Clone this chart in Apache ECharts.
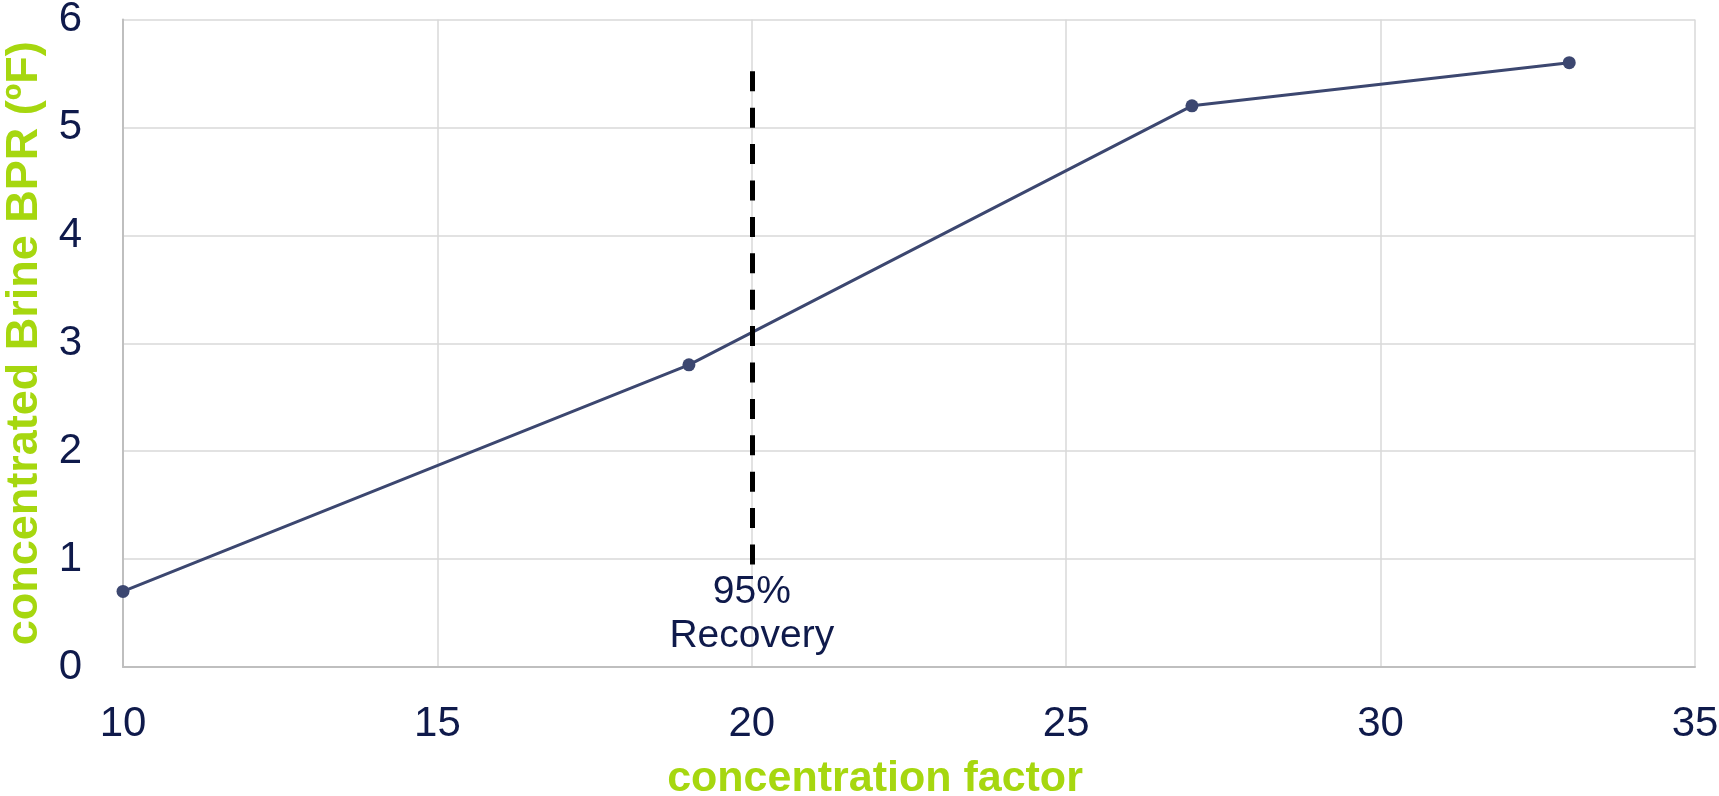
<!DOCTYPE html>
<html>
<head>
<meta charset="utf-8">
<script src="https://cdn.jsdelivr.net/npm/echarts@6/dist/echarts.min.js"></script>
<style>
  html, body { margin: 0; padding: 0; background: #ffffff; }
  #chart { width: 1719px; height: 796px; }
</style>
</head>
<body>
<div id="chart"></div>
<script>
// Boiling point rise of the concentrated brine versus concentration factor
const concentrationFactor = [10, 19, 27, 33];
const brineBPR = [0.7, 2.8, 5.2, 5.6];

// 95% recovery reference: x position and vertical extent
const recoveryX = 20;
const recoveryYRange = [0.95, 5.52];
const recoveryLabel = '95%\nRecovery';

const xTicks = { min: 10, max: 35, interval: 5 };
const yTicks = { min: 0, max: 6, interval: 1 };

const navy = '#0f1a4b';
const green = '#a6d70f';
const lineColor = '#3c4770';
const font = '"Liberation Sans", Arial, sans-serif';

const chart = echarts.init(document.getElementById('chart'), null, { renderer: 'canvas' });

chart.setOption({
  animation: false,
  backgroundColor: '#ffffff',
  textStyle: { fontFamily: font },
  grid: { left: 123, right: 24, top: 19.5, bottom: 129, containLabel: false, outerBoundsMode: 'none' },
  xAxis: {
    type: 'value',
    min: xTicks.min, max: xTicks.max, interval: xTicks.interval,
    name: 'concentration factor',
    nameLocation: 'middle',
    nameGap: 91,
    nameTextStyle: { color: green, fontSize: 43, fontWeight: 'bold', fontFamily: font, padding: [0, 68, 0, 0] },
    axisLine: { show: true, lineStyle: { color: '#bfbfbf', width: 2 } },
    axisTick: { show: false },
    axisLabel: { color: navy, fontSize: 42, margin: 36, fontFamily: font },
    splitLine: { show: true, lineStyle: { color: '#d9d9d9', width: 1.5 } }
  },
  yAxis: {
    type: 'value',
    min: yTicks.min, max: yTicks.max, interval: yTicks.interval,
    name: 'concentrated Brine BPR (ºF)',
    nameLocation: 'middle',
    nameGap: 76,
    nameRotate: 90,
    nameTextStyle: { color: green, fontSize: 45, fontWeight: 'bold', fontFamily: font },
    axisLine: { show: true, lineStyle: { color: '#bfbfbf', width: 2 } },
    axisTick: { show: false },
    axisLabel: { color: navy, fontSize: 42, margin: 41, padding: [9, 0, 0, 0], fontFamily: font },
    splitLine: { show: true, lineStyle: { color: '#d9d9d9', width: 1.5 } }
  },
  series: [{
    type: 'line',
    data: concentrationFactor.map((x, i) => [x, brineBPR[i]]),
    symbol: 'circle',
    symbolSize: 13,
    itemStyle: { color: lineColor },
    lineStyle: { color: lineColor, width: 3 },
    markLine: {
      silent: true,
      symbol: ['none', 'none'],
      lineStyle: { color: '#000000', width: 5, type: [20, 16.4] },
      label: {
        show: true,
        position: 'start',
        formatter: recoveryLabel,
        color: navy,
        fontSize: 39,
        lineHeight: 44,
        distance: 6,
        fontFamily: font
      },
      data: [[
        { coord: [recoveryX, recoveryYRange[0]] },
        { coord: [recoveryX, recoveryYRange[1]] }
      ]]
    }
  }]
});
</script>
</body>
</html>
